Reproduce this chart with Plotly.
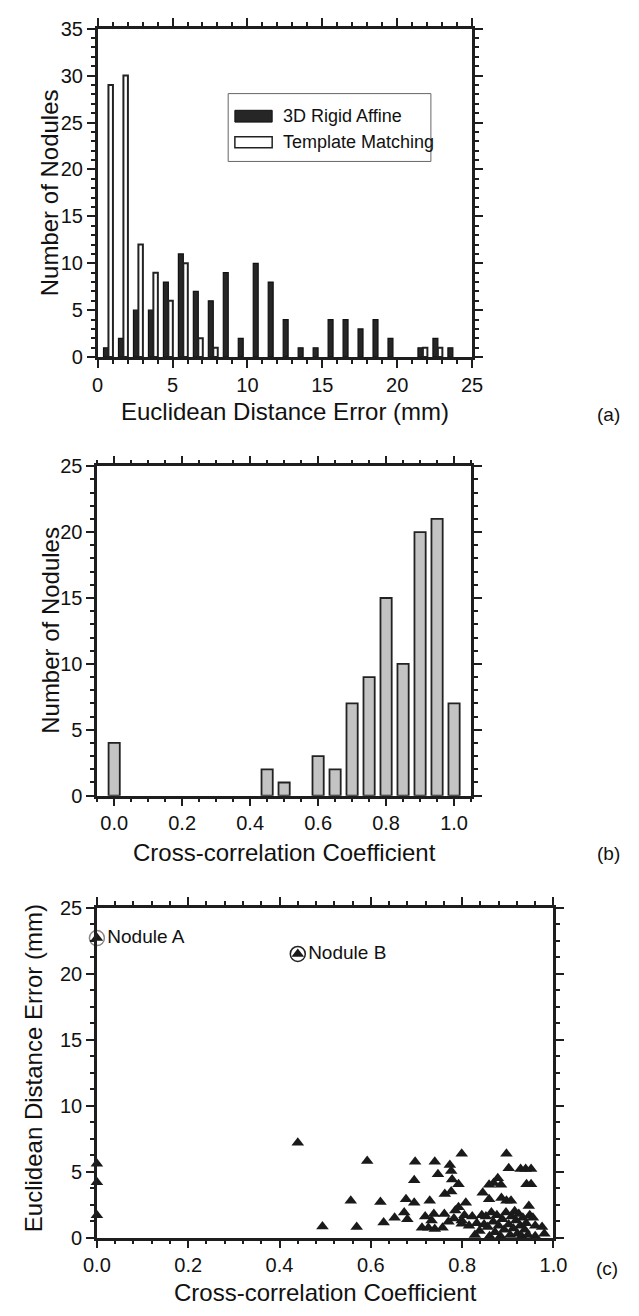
import plotly.graph_objects as go

# ---------------- data ----------------
# (a) histogram of Euclidean distance error, 1 mm bins
bins_a = [0.72, 1.72, 2.72, 3.72, 4.72, 5.72, 6.72, 7.72, 8.72, 9.72, 10.72, 11.72,
          12.72, 13.72, 14.72, 15.72, 16.72, 17.72, 18.72, 19.72, 20.72, 21.72, 22.72, 23.72]
rigid_affine = [1, 2, 5, 5, 8, 11, 7, 6, 9, 2, 10, 8, 4, 1, 1, 4, 4, 3, 4, 2, 0, 1, 2, 1]
template_matching = [29, 30, 12, 9, 6, 10, 2, 1, 0, 0, 0, 0, 0, 0, 0, 0, 0, 0, 0, 0, 0, 1, 1, 0]

# (b) histogram of cross-correlation coefficient
bins_b = [0.0, 0.05, 0.1, 0.15, 0.2, 0.25, 0.3, 0.35, 0.4, 0.45, 0.5,
          0.55, 0.6, 0.65, 0.7, 0.75, 0.8, 0.85, 0.9, 0.95, 1.0]
counts_b = [4, 0, 0, 0, 0, 0, 0, 0, 0, 2, 1, 0, 3, 2, 7, 9, 15, 10, 20, 21, 7]

# (c) scatter: cross-correlation vs Euclidean distance error
cc = [0.0, 0.0, 0.0, 0.0,
      0.44, 0.44, 0.494,
      0.556, 0.569, 0.592, 0.621, 0.628,
      0.652, 0.673, 0.677, 0.680, 0.695, 0.695, 0.697,
      0.712, 0.719, 0.726, 0.729, 0.733, 0.738, 0.740, 0.740, 0.747,
      0.757, 0.761, 0.762, 0.770, 0.773, 0.776, 0.778, 0.776, 0.785, 0.792, 0.782, 0.792, 0.799, 0.799, 0.799,
      0.808, 0.845, 0.805, 0.815, 0.822, 0.828, 0.832, 0.838, 0.843, 0.848,
      0.878, 0.869, 0.885, 0.859, 0.859, 0.886, 0.897, 0.897,
      0.852, 0.856, 0.860, 0.864, 0.868, 0.872, 0.876, 0.880, 0.884, 0.888, 0.892, 0.896,
      0.902, 0.928, 0.939, 0.907, 0.946, 0.941,
      0.902, 0.905, 0.908, 0.912, 0.915, 0.918, 0.921, 0.924, 0.927, 0.930, 0.933, 0.937, 0.940, 0.944, 0.948,
      0.951, 0.951, 0.960, 0.975, 0.980, 0.960, 0.955]
err = [22.7, 5.6, 4.2, 1.7,
       21.5, 7.2, 0.85,
       2.8, 0.8, 5.8, 2.7, 1.15,
       1.5, 1.9, 2.9, 1.4, 2.65, 4.35, 5.75,
       0.75, 1.6, 0.75, 2.8, 1.3, 1.8, 0.65, 5.75, 4.8,
       0.75, 1.8, 3.3, 1.2, 5.5, 5.05, 4.4, 3.5, 2.05, 2.3, 1.45, 4.05, 6.35, 1.3, 1.05,
       2.65, 3.4, 1.7, 0.9, 1.6, 0.2, 1.1, 0.5, 1.7, 1.0,
       4.5, 4.15, 4.0, 4.0, 2.9, 3.0, 2.8, 6.35,
       1.6, 0.8, 0.1, 1.9, 1.2, 0.4, 1.7, 0.9, 0.1, 1.4, 0.6, 1.9,
       5.25, 5.2, 5.2, 2.8, 2.4, 4.05,
       1.0, 0.2, 1.6, 0.7, 2.0, 1.3, 0.3, 1.8, 0.9, 0.1, 1.5, 0.6, 1.1, 0.2, 1.7,
       5.2, 4.05, 0.9, 0.8, 0.3, 0.1, 1.5]
nodule_names = ["Nodule A", "Nodule B"]
nodule_cc = [0.0, 0.44]
nodule_err = [22.7, 21.5]

# ---------------- layout helpers ----------------
W, H = 639, 1316
FONT = "Liberation Sans, Arial, sans-serif"
INK = "#1e1e1e"


def px(x):
    return x / W


def py(y):
    return 1 - y / H


def nz(values):
    # empty bins are not drawn
    return [v if v else None for v in values]


def axis(domain, rng, dtick, minor_dtick, fmt=None):
    d = dict(
        domain=domain, range=rng, dtick=dtick, tick0=0,
        showline=True, linewidth=2.5, linecolor=INK, mirror="ticks",
        ticks="outside", ticklen=8, tickwidth=2, tickcolor=INK,
        minor=dict(ticks="outside", ticklen=4, tickwidth=1.5, tickcolor=INK, dtick=minor_dtick, tick0=0),
        showgrid=False, zeroline=False,
        tickfont=dict(family=FONT, size=20, color="#111"),
        fixedrange=True,
    )
    if fmt:
        d["tickformat"] = fmt
    return d


fig = go.Figure()

# (a)
fig.add_trace(go.Bar(x=bins_a, y=nz(rigid_affine), width=0.33, offset=-0.33,
                     marker=dict(color="#262626", line=dict(color="#111", width=1.2)),
                     xaxis="x", yaxis="y", showlegend=False))
fig.add_trace(go.Bar(x=bins_a, y=nz(template_matching), width=0.30, offset=0.0,
                     marker=dict(color="white", line=dict(color="#222", width=2)),
                     xaxis="x", yaxis="y", showlegend=False))
# (b)
fig.add_trace(go.Bar(x=bins_b, y=nz(counts_b), width=0.033,
                     marker=dict(color="#c3c3c3", line=dict(color="#222", width=1.8)),
                     xaxis="x2", yaxis="y2", showlegend=False))
# (c)
fig.add_trace(go.Scatter(x=cc, y=err, mode="markers",
                         marker=dict(symbol="triangle-up", size=11, color="#1a1a1a"),
                         cliponaxis=False, xaxis="x3", yaxis="y3", showlegend=False))
fig.add_trace(go.Scatter(x=nodule_cc, y=nodule_err, mode="markers+text",
                         text=nodule_names, textposition="middle right",
                         textfont=dict(family=FONT, size=19, color="#111"),
                         marker=dict(symbol="circle-open", size=15, color=["#888", "#222"],
                                     line=dict(width=1.5)),
                         cliponaxis=False, xaxis="x3", yaxis="y3", showlegend=False))

fig.update_layout(
    width=W, height=H, margin=dict(l=0, r=0, t=0, b=0),
    paper_bgcolor="white", plot_bgcolor="white",
    barmode="overlay",
    font=dict(family=FONT, color="#111"),
    xaxis=axis([px(87.5), px(479)], [0, 25], 5, 1),
    yaxis=axis([py(352), py(18)], [0, 35], 5, 1),
    xaxis2=axis([px(87), px(478)], [-0.05, 1.05], 0.2, 0.05, ".1f"),
    yaxis2=axis([py(798), py(463)], [0, 25], 5, 1),
    xaxis3=axis([px(86.7), px(564.2)], [0, 1.0], 0.2, 0.04, ".1f"),
    yaxis3=axis([py(1247.5), py(912)], [0, 25], 5, 1.25),
)
fig.layout.xaxis.anchor = "y"
fig.layout.yaxis.anchor = "x"
fig.layout.xaxis2.anchor = "y2"
fig.layout.yaxis2.anchor = "x2"
fig.layout.xaxis3.anchor = "y3"
fig.layout.yaxis3.anchor = "x3"

TITLE = dict(family=FONT, size=24, color="#111")
ann = [
    ("Euclidean Distance Error (mm)", (87.5 + 479) / 2, 407, 0),
    ("Number of Nodules", 38, 185, -90),
    ("Cross-correlation Coefficient", (87 + 478) / 2, 856, 0),
    ("Number of Nodules", 38, 630, -90),
    ("Cross-correlation Coefficient", (86.7 + 564.2) / 2, 1303, 0),
    ("Euclidean Distance Error (mm)", 20, 1075, -90),
]
for t, x, y, ang in ann:
    fig.add_annotation(text=t, x=px(x), y=py(y), xref="paper", yref="paper",
                       showarrow=False, textangle=ang, font=TITLE,
                       xanchor="center", yanchor="middle")
for t, x, y in [("(a)", 622, 410), ("(b)", 622, 857), ("(c)", 620, 1279)]:
    fig.add_annotation(text=t, x=px(x), y=py(y), xref="paper", yref="paper",
                       showarrow=False, font=dict(family=FONT, size=19, color="#111"),
                       xanchor="center", yanchor="middle")

# legend for (a), drawn as a box with swatches
fig.add_shape(type="rect", xref="paper", yref="paper",
              x0=px(224), x1=px(436), y0=py(153), y1=py(84),
              line=dict(color="#666", width=1), fillcolor="white")
fig.add_shape(type="rect", xref="paper", yref="paper",
              x0=px(231), x1=px(270), y0=py(113), y1=py(101),
              line=dict(color="#111", width=1), fillcolor="#262626")
fig.add_shape(type="rect", xref="paper", yref="paper",
              x0=px(231), x1=px(270), y0=py(139), y1=py(128),
              line=dict(color="#222", width=1.5), fillcolor="white")
for t, y in [("3D Rigid Affine", 107), ("Template Matching", 133)]:
    fig.add_annotation(text=t, x=px(279), y=py(y), xref="paper", yref="paper",
                       showarrow=False, font=dict(family=FONT, size=18, color="#111"),
                       xanchor="left", yanchor="middle")

fig.write_html("out.html")
